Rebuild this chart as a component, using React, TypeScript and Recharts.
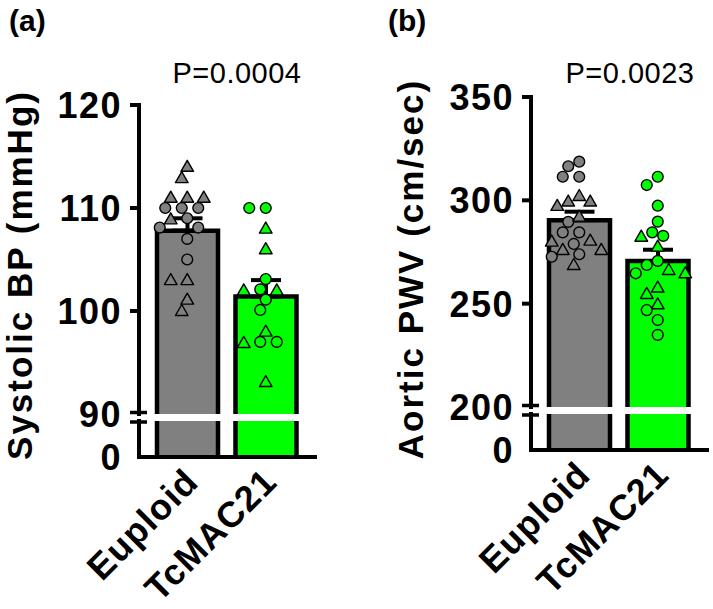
import { Bar, ComposedChart, ErrorBar, Scatter, XAxis, YAxis } from "recharts";

const GROUPS = ["Euploid", "TcMAC21"];

// systolic blood pressure (mmHg)
const BP_MEAN = [107.8, 101.4];
const BP_SEM = [1.2, 1.6];
const BP_CIRCLES = [
  [110.0, 110.0, 110.0, 109.0, 108.1, 108.1, 107.0, 105.0],
  [110.0, 110.0, 103.1, 102.1, 101.1, 100.1, 97.0, 97.0],
];
const BP_TRIANGLES = [
  [114.0, 112.9, 111.0, 111.0, 111.0, 108.9, 103.0, 103.0, 101.1, 100.0],
  [108.0, 106.0, 102.0, 102.0, 98.0, 96.9, 93.1],
];
const BP_TICKS = [90, 100, 110, 120];

// aortic pulse wave velocity (cm/sec)
const PWV_MEAN = [290.4, 270.6];
const PWV_SEM = [4.1, 5.5];
const PWV_CIRCLES = [
  [318.7, 316.5, 311.4, 311.4, 289.6, 284.5, 284.5, 278.9, 273.9, 272.7],
  [311.4, 307.4, 297.4, 289.7, 284.5, 282.8, 270.7, 268.7, 264.7, 246.9, 242.1, 234.9],
];
const PWV_TRIANGLES = [
  [302.1, 299.4, 299.4, 297.3, 292.1, 280.5, 280.0, 276.0, 276.0, 268.7],
  [282.4, 277.6, 266.3, 264.7, 257.8, 254.7, 249.7],
];
const PWV_TICKS = [200, 250, 300, 350];

const FILLS = ["#808080", "#00ff00"];
const FONT = '"Liberation Sans", Arial, Helvetica, sans-serif';
const BOLD = { fontFamily: FONT, fontSize: 36, fontWeight: 700, letterSpacing: 1.5, fill: "#000" };

const H = 609;
const AXIS_X = 139;
const PLOT_RIGHT = 315;
const PAD_L = 9;
const PAD_R = 10;
const Y_AXIS_W = 60;
const X_AXIS_H = 100;
const TOP_EXTRA = 30;
const DOT_D = 11.5;
const STEP = 5.5;

// simple beeswarm: nearest free horizontal slot, largest values first
function swarm(values: number[], pxPerUnit: number) {
  const order = values.map((_, i) => i).sort((a, b) => values[b] - values[a]);
  const placed: { dx: number; dy: number }[] = [];
  const out = values.map(() => 0);
  for (const i of order) {
    const dy = values[i] * pxPerUnit;
    for (let k = 0; k < 40; k++) {
      const dx = (k % 2 === 0 ? 1 : -1) * Math.ceil(k / 2) * STEP;
      const free = placed.every((p) => (p.dx - dx) ** 2 + (p.dy - dy) ** 2 >= DOT_D * DOT_D);
      if (free) {
        placed.push({ dx, dy });
        out[i] = dx;
        break;
      }
    }
  }
  return out;
}

function TopBar(props: any) {
  const { x, y, width, height, index } = props;
  return (
    <g>
      <rect x={x} y={y} width={width} height={height} fill={FILLS[index]} />
      <path
        d={`M${x},${y + height}L${x},${y}L${x + width},${y}L${x + width},${y + height}`}
        fill="none"
        stroke="#000"
        strokeWidth={4.5}
      />
    </g>
  );
}

function LowBar(props: any) {
  const { x, y, width, height, index } = props;
  return (
    <g>
      <rect x={x} y={y} width={width} height={height} fill={FILLS[index]} />
      <path
        d={`M${x},${y + height}L${x},${y}M${x + width},${y}L${x + width},${y + height}`}
        fill="none"
        stroke="#000"
        strokeWidth={4.5}
      />
    </g>
  );
}

function Dot(props: any) {
  const { cx, cy, payload } = props;
  const fill = FILLS[payload.g];
  if (payload.kind === "triangle") {
    return (
      <polygon
        points={`${cx},${cy - 6.5} ${cx - 6.3},${cy + 4.5} ${cx + 6.3},${cy + 4.5}`}
        fill={fill}
        stroke="#000"
        strokeWidth={1.4}
        strokeLinejoin="round"
      />
    );
  }
  return <circle cx={cx} cy={cy} r={5.4} fill={fill} stroke="#000" strokeWidth={1.4} />;
}

function ValueTick(props: any) {
  const { x, y, payload, breakAt } = props;
  const isBreak = payload.value === breakAt;
  const ly = isBreak ? y - 1.5 : y;
  return (
    <g>
      <line x1={x - 9} x2={isBreak ? x + 8 : x} y1={ly} y2={ly} stroke="#000" strokeWidth={isBreak ? 3.5 : 4} />
      <text x={x - 17} y={y} dy="0.36em" textAnchor="end" {...BOLD}>
        {payload.value}
      </text>
    </g>
  );
}

function LowTick(props: any) {
  const { x, y, payload } = props;
  if (payload.value === 0) {
    return (
      <text x={x - 17} y={y} dy="0.36em" textAnchor="end" {...BOLD}>
        0
      </text>
    );
  }
  return <line x1={x - 9} x2={x + 8} y1={y + 1} y2={y + 1} stroke="#000" strokeWidth={3.5} />;
}

function GroupTick(props: any) {
  const { x, y, payload } = props;
  const ax = x + 13;
  const ay = y + 27;
  return (
    <text
      x={ax}
      y={ay}
      textAnchor="end"
      transform={`rotate(-45, ${ax}, ${ay})`}
      {...BOLD}
      letterSpacing={1}
    >
      {payload.value}
    </text>
  );
}

const axisLine = { stroke: "#000", strokeWidth: 4, strokeLinecap: "square" as const };

interface PanelProps {
  left: number;
  width: number;
  top: number;
  breakY: number;
  lowTop: number;
  baseY: number;
  ticks: number[];
  mean: number[];
  sem: number[];
  circles: number[][];
  triangles: number[][];
}

function Panel({ left, width, top, breakY, lowTop, baseY, ticks, mean, sem, circles, triangles }: PanelProps) {
  const lo = ticks[0];
  const hi = ticks[ticks.length - 1];
  const rows = GROUPS.map((name, i) => ({ name, mean: mean[i], err: [0, sem[i]] }));
  const pxPerUnit = (breakY - top) / (hi - lo);
  const band = (PLOT_RIGHT - AXIS_X - PAD_L - PAD_R) / GROUPS.length;
  const dots = GROUPS.flatMap((_, g) => {
    const pts = [
      ...circles[g].map((v) => ({ v, kind: "circle" })),
      ...triangles[g].map((v) => ({ v, kind: "triangle" })),
    ];
    const off = swarm(
      pts.map((p) => p.v),
      pxPerUnit
    );
    return pts.map((p, i) => ({ x: g + 0.5 + off[i] / band, y: p.v, kind: p.kind, g }));
  });
  const side = { left: AXIS_X - Y_AXIS_W, right: width - PLOT_RIGHT };
  const padding = { left: PAD_L, right: PAD_R };

  return (
    <div style={{ position: "absolute", left, top: 0, width, height: H }}>
      <div style={{ position: "absolute", left: 0, top: 0 }}>
        <ComposedChart
          width={width}
          height={H}
          data={rows}
          margin={{ ...side, top: lowTop, bottom: H - baseY - X_AXIS_H }}
        >
          <XAxis
            dataKey="name"
            padding={padding}
            height={X_AXIS_H}
            axisLine={axisLine}
            tickLine={false}
            tickSize={0}
            tickMargin={0}
            interval={0}
            tick={<GroupTick />}
          />
          <YAxis
            type="number"
            domain={[0, lo]}
            ticks={[0, lo]}
            allowDataOverflow
            width={Y_AXIS_W}
            axisLine={axisLine}
            tickLine={false}
            tickSize={0}
            tickMargin={0}
            interval={0}
            tick={<LowTick />}
          />
          <Bar dataKey="mean" barSize={61} shape={<LowBar />} isAnimationActive={false} />
        </ComposedChart>
      </div>
      <div style={{ position: "absolute", left: 0, top: 0 }}>
        <ComposedChart
          width={width}
          height={breakY + TOP_EXTRA}
          data={rows}
          margin={{ ...side, top, bottom: TOP_EXTRA }}
        >
          <XAxis dataKey="name" hide padding={padding} />
          <XAxis
            xAxisId="dots"
            dataKey="x"
            type="number"
            domain={[0, GROUPS.length]}
            allowDataOverflow
            hide
            padding={padding}
          />
          <YAxis
            type="number"
            domain={[lo, hi]}
            ticks={ticks}
            allowDataOverflow
            width={Y_AXIS_W}
            axisLine={axisLine}
            tickLine={false}
            tickSize={0}
            tickMargin={0}
            interval={0}
            tick={<ValueTick breakAt={lo} />}
          />
          <Bar dataKey="mean" barSize={61} shape={<TopBar />} isAnimationActive={false}>
            <ErrorBar
              dataKey="err"
              direction="y"
              width={15}
              strokeWidth={4}
              stroke="#000"
              isAnimationActive={false}
            />
          </Bar>
          <Scatter xAxisId="dots" data={dots} dataKey="y" shape={<Dot />} isAnimationActive={false} />
        </ComposedChart>
      </div>
    </div>
  );
}

const TITLE = { ...BOLD, fontSize: 35, letterSpacing: 2 };

export default function App() {
  return (
    <div
      style={{
        position: "absolute",
        left: 0,
        top: 0,
        width: 713,
        height: H,
        background: "#fff",
        overflow: "hidden",
      }}
    >
      <Panel
        left={0}
        width={330}
        top={105}
        breakY={414}
        lowTop={421}
        baseY={457}
        ticks={BP_TICKS}
        mean={BP_MEAN}
        sem={BP_SEM}
        circles={BP_CIRCLES}
        triangles={BP_TRIANGLES}
      />
      <Panel
        left={392}
        width={321}
        top={97}
        breakY={407}
        lowTop={414}
        baseY={450}
        ticks={PWV_TICKS}
        mean={PWV_MEAN}
        sem={PWV_SEM}
        circles={PWV_CIRCLES}
        triangles={PWV_TRIANGLES}
      />
      <svg
        width={713}
        height={H}
        style={{ position: "absolute", left: 0, top: 0, pointerEvents: "none" }}
      >
        <g fontFamily={FONT} fill="#000">
          <text x={9} y={31} fontSize={30} fontWeight={700}>
            (a)
          </text>
          <text x={388} y={31} fontSize={30} fontWeight={700}>
            (b)
          </text>
          <text x={237} y={83} fontSize={29} textAnchor="middle" letterSpacing={0.5}>
            P=0.0004
          </text>
          <text x={630} y={83} fontSize={29} textAnchor="middle" letterSpacing={0.5}>
            P=0.0023
          </text>
        </g>
        <text transform="translate(32, 275) rotate(-90)" textAnchor="middle" {...TITLE}>
          Systolic BP (mmHg)
        </text>
        <text transform="translate(423, 269) rotate(-90)" textAnchor="middle" {...TITLE}>
          Aortic PWV (cm/sec)
        </text>
      </svg>
    </div>
  );
}
